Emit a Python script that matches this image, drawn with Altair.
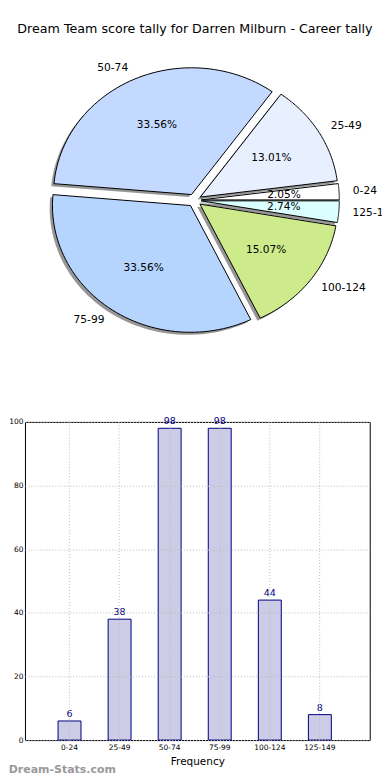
import altair as alt
import pandas as pd

# ---------------- data ----------------
cats = ["0-24", "25-49", "50-74", "75-99", "100-124", "125-149"]
counts = [6, 38, 98, 98, 44, 8]
pie_colors = ["#ffffff", "#e8f0ff", "#c3d9ff", "#b5d5ff", "#cdeb8b", "#dbffff"]
explode = [0.05, 0.05, 0.05, 0.05, 0.05, 0.05]
y_ticks = [0, 20, 40, 60, 80, 100]
title_text = "Dream Team score tally for Darren Milburn - Career tally"
watermark = ["Dream-Stats.com"]

df = pd.DataFrame({"cat": cats, "count": counts, "idx": list(range(len(cats))), "explode": explode})
wm = pd.DataFrame({"t": watermark})

FONT = "DejaVu Sans"

# ---------------- layout (page px) ----------------
CX, CY, RX, RY = 194.2, 198.8, 138.4, 127.1
L = 24.3
PIE_T, PIE_B, PIE_R = 48, 345, 382
WP, HP = PIE_R - L, PIE_B - PIE_T
xdom = [(L - CX) / RX, (PIE_R - CX) / RX]
ydom = [(CY - PIE_B) / RY, (CY - PIE_T) / RY]
BAR_T, BAR_B, BAR_R = 421, 740, 370
WB, HB = BAR_R - L, BAR_B - BAR_T

N = 60

base = (
    alt.Chart(df)
    .transform_joinaggregate(total="sum(count)")
    .transform_window(cum="sum(count)", sort=[alt.SortField("idx")], frame=[None, 0])
    .transform_calculate(
        a0="2*PI*(datum.cum-datum.count)/datum.total",
        a1="2*PI*datum.cum/datum.total",
    )
    .transform_calculate(am="(datum.a0+datum.a1)/2")
    .transform_calculate(
        ex="datum.explode*cos(datum.am)",
        ey="datum.explode*sin(datum.am)",
        pct="format(100*datum.count/datum.total, '.2f') + '%'",
    )
)

poly = (
    base.transform_calculate(k=f"sequence(0, {N + 3})")
    .transform_flatten(["k"])
    .transform_calculate(
        onarc=f"datum.k >= 1 && datum.k <= {N + 1}",
        t=f"datum.a0 + (datum.a1-datum.a0)*clamp(datum.k-1, 0, {N})/{N}",
    )
    .transform_calculate(
        px="datum.ex + (datum.onarc ? cos(datum.t) : 0)",
        py="datum.ey + (datum.onarc ? sin(datum.t) : 0)",
    )
    .transform_calculate(sx="datum.px - 0.02", sy="datum.py - 0.02")
)

xsc = alt.Scale(domain=xdom, nice=False, zero=False)
ysc = alt.Scale(domain=ydom, nice=False, zero=False)

shadow = poly.mark_line(filled=True, color="#404040", opacity=0.55, strokeWidth=0).encode(
    x=alt.X("sx:Q", scale=xsc, axis=None),
    y=alt.Y("sy:Q", scale=ysc, axis=None),
    order="k:Q",
    detail="cat:N",
)

wedges = poly.mark_line(filled=True, stroke="black", strokeWidth=1, strokeJoin="miter").encode(
    x=alt.X("px:Q", scale=xsc, axis=None),
    y=alt.Y("py:Q", scale=ysc, axis=None),
    order="k:Q",
    color=alt.Color("cat:N", scale=alt.Scale(domain=cats, range=pie_colors), legend=None),
)

labels = base.transform_calculate(
    lx="datum.ex + 1.1*cos(datum.am)", ly="datum.ey + 1.1*sin(datum.am)"
)
lab_r = labels.transform_filter("datum.lx > 0").mark_text(
    align="left", baseline="middle", font=FONT, fontSize=10.7, color="black", clip=True
).encode(x=alt.X("lx:Q", scale=xsc, axis=None), y=alt.Y("ly:Q", scale=ysc, axis=None), text="cat:N")
lab_l = labels.transform_filter("datum.lx <= 0").mark_text(
    align="right", baseline="middle", font=FONT, fontSize=10.7, color="black", clip=True
).encode(x=alt.X("lx:Q", scale=xsc, axis=None), y=alt.Y("ly:Q", scale=ysc, axis=None), text="cat:N")

pcts = base.transform_calculate(
    tx="datum.ex + 0.6*cos(datum.am)", ty="datum.ey + 0.6*sin(datum.am)"
).mark_text(align="center", baseline="middle", font=FONT, fontSize=10.6, color="black").encode(
    x=alt.X("tx:Q", scale=xsc, axis=None), y=alt.Y("ty:Q", scale=ysc, axis=None), text="pct:N"
)

pie = alt.layer(shadow, wedges, lab_r, lab_l, pcts).properties(
    width=WP, height=HP, view=alt.ViewBackground(strokeWidth=0)
)

# ---------------- bar chart ----------------
bx = alt.X(
    "cat:N",
    sort=cats,
    scale=alt.Scale(paddingInner=0.542, paddingOuter=0.714, align=0.463),
    axis=alt.Axis(
        title="Frequency", labelAngle=0, grid=True, gridDash=[1, 2], gridColor="#bbbbbb",
        ticks=False, domain=False, labelFont=FONT, labelFontSize=7.5, labelColor="black",
        labelPadding=3, titleFont=FONT, titleFontSize=10.5, titleFontWeight="normal",
        titleColor="black", titlePadding=6, bandPosition=0.5, zindex=1,
    ),
)
by = alt.Y(
    "count:Q",
    scale=alt.Scale(domain=[0, 100], nice=False),
    axis=alt.Axis(
        title=None, values=y_ticks, grid=True, gridDash=[1, 2], gridColor="#bbbbbb",
        ticks=False, domain=False, labelFont=FONT, labelFontSize=7.5, labelColor="black",
        labelPadding=2, zindex=1,
    ),
)

bars = alt.Chart(df).mark_bar(fill="#ccccE6", stroke="#000080", strokeWidth=1).encode(x=bx, y=by)
vals = alt.Chart(df).mark_text(
    baseline="bottom", dy=-2, color="#000080", font=FONT, fontSize=9.5
).encode(x=alt.X("cat:N", sort=cats), y=alt.Y("count:Q"), text="count:Q")
wmark = alt.Chart(wm).mark_text(
    align="left", baseline="middle", color="#999999", font=FONT, fontSize=11, fontWeight="bold"
).encode(x=alt.value(8 - L), y=alt.value(770 - BAR_T), text="t:N")

bar = alt.layer(bars, vals, wmark).properties(
    width=WB, height=HB, view=alt.ViewBackground(stroke="black", strokeWidth=1)
)

chart = alt.vconcat(
    pie, bar,
    spacing=BAR_T - PIE_B,
    bounds="flush",
    padding={"top": 14, "left": 0, "right": 0, "bottom": 0},
    title=alt.TitleParams(
        text=title_text, font=FONT, fontSize=12.7, fontWeight="normal", color="black",
        anchor="middle", offset=14,
    ),
)

chart.save("out.html", embed_options={"renderer": "svg", "actions": False})
